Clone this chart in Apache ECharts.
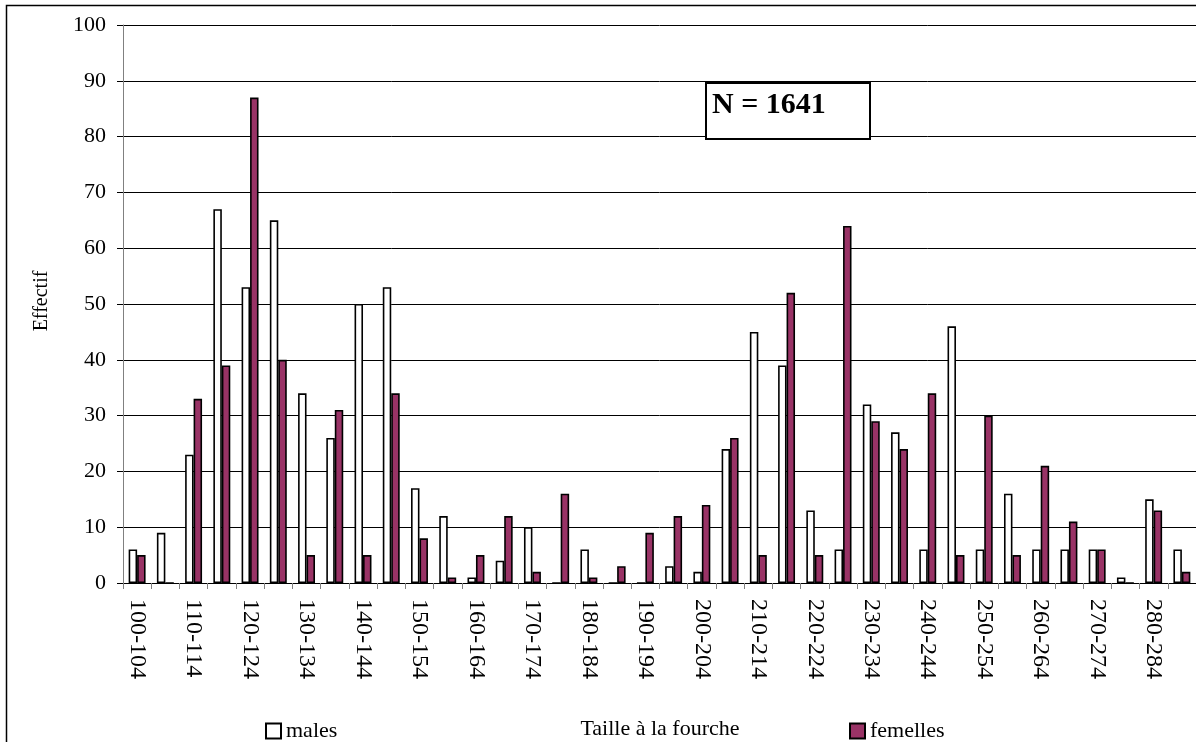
<!DOCTYPE html>
<html>
<head>
<meta charset="utf-8">
<script src="https://cdn.jsdelivr.net/npm/echarts@6/dist/echarts.min.js"></script>
<style>
  html, body { margin: 0; padding: 0; background: #fff; }
  #chart { width: 1196px; height: 742px; }
</style>
</head>
<body>
<div id="chart"></div>
<script>
// Size classes (cm, fork length)
const categories = [
  "100-104","105-109","110-114","115-119","120-124","125-129","130-134","135-139",
  "140-144","145-149","150-154","155-159","160-164","165-169","170-174","175-179",
  "180-184","185-189","190-194","195-199","200-204","205-209","210-214","215-219",
  "220-224","225-229","230-234","235-239","240-244","245-249","250-254","255-259",
  "260-264","265-269","270-274","275-279","280-284","285-289"
];
const males = [
  6, 9, 23, 67, 53, 65, 34, 26,
  50, 53, 17, 12, 1, 4, 10, 0,
  6, 0, 0, 3, 2, 24, 45, 39,
  13, 6, 32, 27, 6, 46, 6, 16,
  6, 6, 6, 1, 15, 6
];
const femelles = [
  5, 0, 33, 39, 87, 40, 5, 31,
  5, 34, 8, 1, 5, 12, 2, 16,
  1, 3, 9, 12, 14, 26, 5, 52,
  5, 64, 29, 24, 34, 5, 30, 5,
  21, 11, 6, 0, 13, 2
];
const yTicks = { min: 0, max: 100, interval: 10 };
const seriesNames = ["males", "femelles"];
const axisTitleX = "Taille à la fourche";
const axisTitleY = "Effectif";
const annotation = "N = 1641";

const FONT = "'Liberation Serif', 'Times New Roman', serif";
const chart = echarts.init(document.getElementById('chart'), null, { renderer: 'canvas' });

const option = {
  animation: false,
  backgroundColor: '#ffffff',
  textStyle: { fontFamily: FONT, color: '#000' },
  grid: { left: 123, top: 25, width: 1075, height: 558, containLabel: false },
  legend: [
    {
      data: [seriesNames[0]], left: 265, top: 720, padding: 0,
      icon: 'rect', itemWidth: 15, itemHeight: 15,
      textStyle: { fontFamily: FONT, fontSize: 22, color: '#000' }
    },
    {
      data: [seriesNames[1]], left: 849, top: 720, padding: 0,
      icon: 'rect', itemWidth: 15, itemHeight: 15,
      textStyle: { fontFamily: FONT, fontSize: 22, color: '#000' }
    }
  ],
  xAxis: {
    type: 'category',
    data: categories,
    boundaryGap: true,
    axisLine: { show: true, lineStyle: { color: '#000', width: 1 } },
    axisTick: { show: true, interval: 0, length: 6, lineStyle: { color: '#808080' } },
    axisLabel: {
      interval: 1, rotate: -90, margin: 16,
      fontFamily: FONT, fontSize: 24, color: '#000'
    },
    splitLine: { show: false }
  },
  yAxis: {
    type: 'value',
    min: yTicks.min, max: yTicks.max, interval: yTicks.interval,
    axisLine: { show: true, lineStyle: { color: '#808080', width: 1 } },
    axisTick: { show: true, length: 6, lineStyle: { color: '#000' } },
    axisLabel: { margin: 17, fontFamily: FONT, fontSize: 22, color: '#000' },
    splitLine: { show: true, lineStyle: { color: '#000', width: 1 } }
  },
  series: [
    {
      name: seriesNames[0], type: 'bar', data: males,
      barGap: '0%', barCategoryGap: '40%',
      itemStyle: { color: '#ffffff', borderColor: '#000', borderWidth: 1.6 }
    },
    {
      name: seriesNames[1], type: 'bar', data: femelles,
      barGap: '0%', barCategoryGap: '40%',
      itemStyle: { color: '#993366', borderColor: '#000', borderWidth: 1.6 }
    }
  ],
  graphic: [
    {
      type: 'rect', silent: true, z: -10,
      shape: { x: 6.5, y: 5.5, width: 1400, height: 900 },
      style: { fill: 'none', stroke: '#000', lineWidth: 1.5 }
    },
    {
      type: 'text', silent: true,
      x: 42, y: 301, rotation: Math.PI / 2,
      style: {
        text: axisTitleY, font: '20px ' + FONT, fill: '#000',
        textAlign: 'center', textVerticalAlign: 'middle'
      }
    },
    {
      type: 'text', silent: true,
      x: 660, y: 729,
      style: {
        text: axisTitleX, font: '22px ' + FONT, fill: '#000',
        textAlign: 'center', textVerticalAlign: 'middle'
      }
    },
    {
      type: 'rect', silent: true, z: 100,
      shape: { x: 706, y: 83, width: 164, height: 56 },
      style: { fill: '#ffffff', stroke: '#000', lineWidth: 2 }
    },
    {
      type: 'text', silent: true, z: 101,
      x: 712, y: 105,
      style: {
        text: annotation, font: 'bold 30px ' + FONT, fill: '#000',
        textAlign: 'left', textVerticalAlign: 'middle'
      }
    }
  ]
};
chart.setOption(option);
</script>
</body>
</html>
